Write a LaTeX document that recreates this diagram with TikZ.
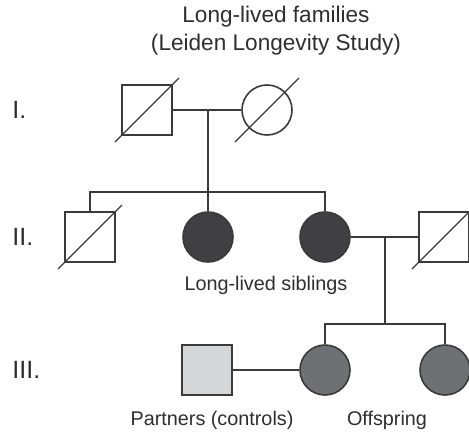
\documentclass[tikz,border=0pt]{standalone}
\usepackage{fontspec}
\setmainfont{Liberation Sans}
\definecolor{LLSdark}{HTML}{404042}
\definecolor{LLSmid}{HTML}{6F7073}
\definecolor{LLSlight}{HTML}{D5D6D8}
\definecolor{LLSline}{HTML}{3A3A3A}
\definecolor{LLStext}{HTML}{2E2E2E}
\usetikzlibrary{calc, positioning}

\begin{document}
\begin{tikzpicture}[x=0.5pt, y=-0.5pt,
    male/.style={rectangle, draw=LLSline, line width=0.8pt, minimum size=25pt, inner sep=0pt},
    female/.style={circle, draw=LLSline, line width=0.8pt, minimum size=25pt, inner sep=0pt},
    link/.style={LLSline, line width=0.6pt},
    slash/.style={LLSline, line width=0.6pt},
    lbl/.style={text=LLStext, font=\fontsize{9.9}{12}\selectfont},
    gen/.style={text=LLStext, font=\fontsize{12.5}{15}\selectfont, anchor=west, inner sep=0pt}]
    \useasboundingbox (0,0) rectangle (469,433);
    % Title
    \node[text=LLStext, font=\fontsize{11.3}{14}\selectfont, align=center] (title) at (276,31)
        {Long-lived families\\(Leiden Longevity Study)};
    % Generation labels
    \node[gen] (genI) at (12,110) {I.};
    \node[gen] (genII) at (12,237) {II.};
    \node[gen] (genIII) at (12,370) {III.};
    % Generation I
    \node[male] (gf) at (147,110) {};
    \node[female] (gm) at (267,110) {};
    \draw[slash] ($(gf.center)+(-32,32)$) -- ($(gf.center)+(32,-32)$);
    \draw[slash] ($(gm.center)+(-32,32)$) -- ($(gm.center)+(32,-32)$);
    \draw[link] (gf.east) -- (gm.west);
    \coordinate (mI) at (208,110);
    % Generation II
    \node[male] (sib1) at (90,237) {};
    \node[female, fill=LLSdark] (sib2) at (208,237) {};
    \node[female, fill=LLSdark] (sib3) at (325,237) {};
    \node[male] (sp) at (444,237) {};
    \draw[slash] ($(sib1.center)+(-32,32)$) -- ($(sib1.center)+(32,-32)$);
    \draw[slash] ($(sp.center)+(-32,32)$) -- ($(sp.center)+(32,-32)$);
    \coordinate (shipII) at (208,192);
    \draw[link] (mI) -- (shipII);
    \draw[link] (sib1.north) |- (shipII) -| (sib3.north);
    \draw[link] (shipII) -- (sib2.north);
    \draw[link] (sib3.east) -- (sp.west);
    \coordinate (mII) at (385,237);
    \node[lbl] (sibs) at (266,285) {Long-lived siblings};
    % Generation III
    \node[male, fill=LLSlight] (ctrl) at (207,370) {};
    \node[female, fill=LLSmid] (off1) at (325,370) {};
    \node[female, fill=LLSmid] (off2) at (445,370) {};
    \coordinate (shipIII) at (385,324);
    \draw[link] (mII) -- (shipIII);
    \draw[link] (off1.north) |- (shipIII) -| (off2.north);
    \draw[link] (ctrl.east) -- (off1.west);
    \node[lbl] (partners) at (212,420) {Partners (controls)};
    \node[lbl] (offspring) at (387,420) {Offspring};
\end{tikzpicture}
\end{document}
